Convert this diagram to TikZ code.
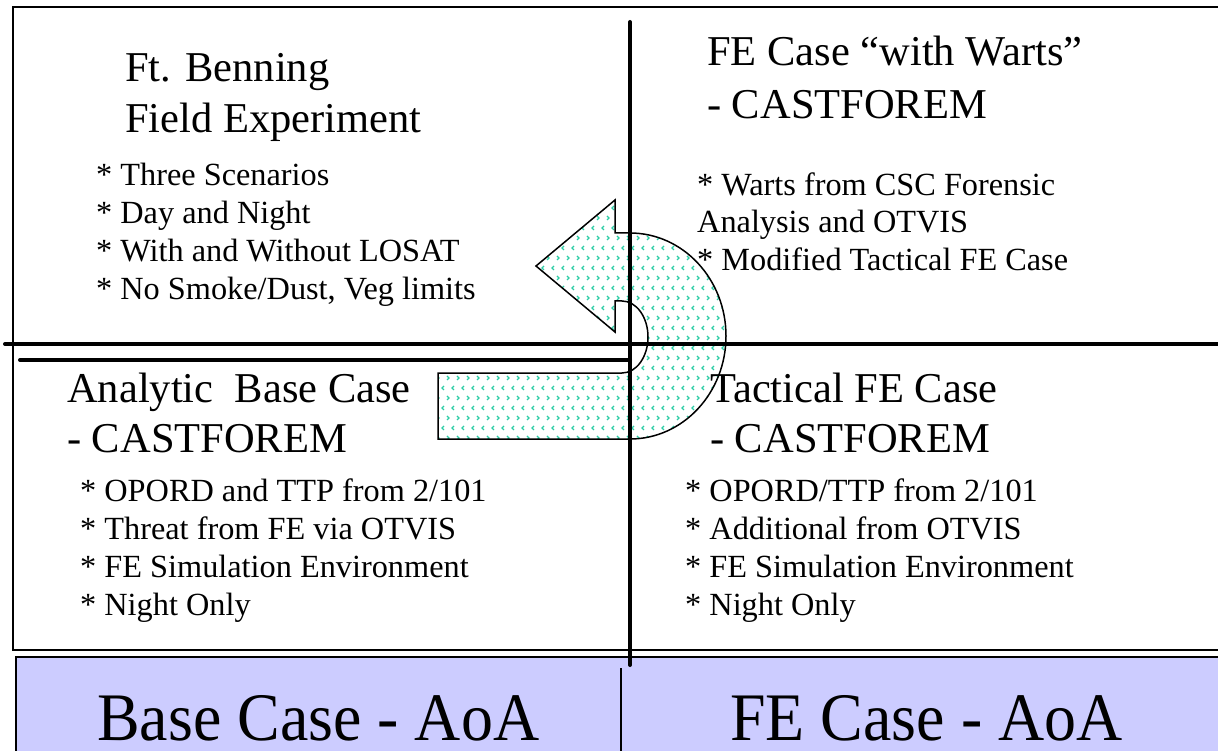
\documentclass[tikz,border=0pt]{standalone}
\usepackage{fontspec}
\setmainfont{Liberation Serif}
\usepackage{xcolor}
\usepackage{tikz}
\usetikzlibrary{patterns}

\definecolor{bandblue}{RGB}{204,204,255}
\definecolor{arrowteal}{RGB}{45,205,165}

% small chevrons for the turning arrow
\pgfdeclarepatternformonly{chevrons}{\pgfqpoint{-1pt}{-1pt}}{\pgfqpoint{21pt}{21pt}}{\pgfqpoint{20pt}{20pt}}{%
  \pgfsetlinewidth{1.3pt}
  \pgfpathmoveto{\pgfqpoint{4pt}{1pt}}\pgfpathlineto{\pgfqpoint{2pt}{3pt}}\pgfpathlineto{\pgfqpoint{4pt}{5pt}}
  \pgfpathmoveto{\pgfqpoint{14pt}{1pt}}\pgfpathlineto{\pgfqpoint{12pt}{3pt}}\pgfpathlineto{\pgfqpoint{14pt}{5pt}}
  \pgfpathmoveto{\pgfqpoint{7pt}{11pt}}\pgfpathlineto{\pgfqpoint{9pt}{13pt}}\pgfpathlineto{\pgfqpoint{7pt}{15pt}}
  \pgfpathmoveto{\pgfqpoint{17pt}{11pt}}\pgfpathlineto{\pgfqpoint{19pt}{13pt}}\pgfpathlineto{\pgfqpoint{17pt}{15pt}}
  \pgfusepath{stroke}}

\begin{document}
\begin{tikzpicture}[x=1pt, y=-1pt,
    title/.style={font=\fontsize{42.5}{51}\selectfont, anchor=base west, inner sep=0pt},
    item/.style={font=\fontsize{32.3}{38}\selectfont, anchor=base west, inner sep=0pt},
    aoa/.style={font=\fontsize{68}{80}\selectfont, anchor=base west, inner sep=0pt, xscale=0.94},
    divider/.style={line width=4pt, line cap=round}]
\useasboundingbox (0,0) rectangle (1218,751);

% frame and bottom band
\draw[line width=1.5pt] (13,7) rectangle (1230,650);
\fill[bandblue] (16,657) rectangle (1230,760);
\draw[line width=2pt] (16,760) -- (16,657) -- (1230,657);
\draw[line width=1.5pt] (621,668) -- (621,760);

% the turning arrow
\path[draw=black, line width=1.5pt, pattern=chevrons, pattern color=arrowteal]
    (536,266) -- (615,200) -- (615,233) -- (630,233)
    arc[start angle=90, end angle=-90, x radius=96pt, y radius=103pt]
    -- (438,439) -- (438,373) -- (622,373)
    arc[start angle=-90, end angle=90, x radius=26pt, y radius=36pt]
    -- (615,301) -- (615,332) -- cycle;

% quadrant lines
\draw[divider] (630,22) -- (630,665);
\draw[divider] (5,344) -- (1230,344);
\draw[divider] (20,360) -- (630,360);

% upper left
\node[title] (nwA) at (125,82) {Ft. Benning};
\node[title] (nwB) at (125,133) {Field Experiment};
\node[item] (nw1) at (96,186) {* Three Scenarios};
\node[item] (nw2) at (96,224) {* Day and Night};
\node[item] (nw3) at (96,262) {* With and Without LOSAT};
\node[item] (nw4) at (96,300) {* No Smoke/Dust, Veg limits};

% upper right
\node[title] (neA) at (707,66) {FE Case “with Warts”};
\node[title] (neB) at (707,119) {- CASTFOREM};
\node[item] (ne1) at (697,196) {* Warts from CSC Forensic};
\node[item] (ne2) at (697,233) {Analysis and OTVIS};
\node[item] (ne3) at (697,271) {* Modified Tactical FE Case};

% lower left
\node[title] (swA) at (67,402) {Analytic\ \ Base Case};
\node[title] (swB) at (67,452) {- CASTFOREM};
\node[item] (sw1) at (80,501) {* OPORD and TTP from 2/101};
\node[item] (sw2) at (80,539) {* Threat from FE via OTVIS};
\node[item] (sw3) at (80,577) {* FE Simulation Environment};
\node[item] (sw4) at (80,615) {* Night Only};

% lower right
\node[title] (seA) at (710,402) {Tactical FE Case};
\node[title] (seB) at (710,452) {- CASTFOREM};
\node[item] (se1) at (685,501) {* OPORD/TTP from 2/101};
\node[item] (se2) at (685,539) {* Additional from OTVIS};
\node[item] (se3) at (685,577) {* FE Simulation Environment};
\node[item] (se4) at (685,615) {* Night Only};

% band labels
\node[aoa] (baseAoA) at (97,740) {Base Case - AoA};
\node[aoa] (feAoA) at (730,740) {FE Case - AoA};
\end{tikzpicture}
\end{document}
